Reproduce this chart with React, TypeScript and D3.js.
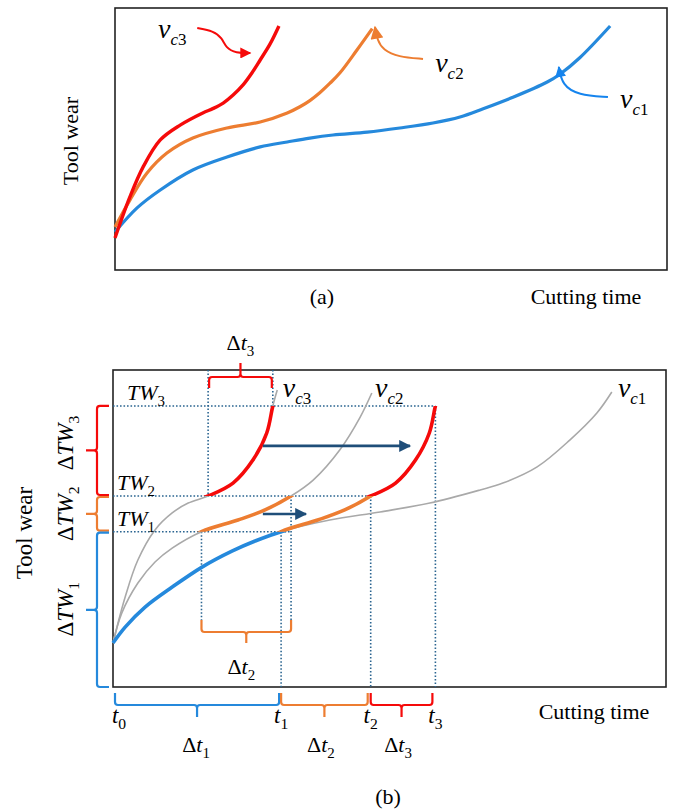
import React from 'react';
import * as d3 from 'd3';

// ---- panel (a): tool wear vs cutting time, [time, wear] ----
const vc1A: [number, number][] = [[0, 0], [4.0, 11.7], [8.2, 20.4], [14.1, 30.1], [20.3, 36.4], [26.3, 41.3], [31.2, 43.7], [35.3, 45.6], [39.5, 47.1], [45.7, 48.5], [51.6, 50.5], [57.6, 52.9], [62.5, 55.8], [66.7, 59.8], [72.1, 65.4], [78.3, 72.8], [80.6, 76.6], [84.2, 84.6], [89.7, 100]];
const vc2A: [number, number][] = [[0, 2.4], [2.7, 15.5], [5.8, 28.6], [9.4, 38.3], [14.1, 45.6], [20.3, 50.5], [26.3, 53.4], [31.2, 57.8], [33.5, 60.8], [35.3, 63.8], [37.1, 67.6], [38.9, 72.1], [40.8, 77.4], [43.8, 88.2], [46.6, 98.7]];
const vc3A: [number, number][] = [[0, -2.9], [2.7, 17], [5.1, 31.6], [8.2, 44.7], [11.8, 51.9], [15.9, 57.8], [17.8, 60.0], [19.6, 62.6], [21.4, 66.5], [23.2, 71.4], [24.8, 77.2], [26.3, 83.5], [28.1, 91.3], [29.7, 100]];

// callout arrows for the speed labels in (a)
const callout3: [number, number][] = [[14.9, 99.0], [17.8, 97.6], [19.4, 94.2], [20.1, 89.3], [21.9, 86.9], [24.5, 86.9]];
const callout2: [number, number][] = [[55.8, 84.0], [51.3, 85.0], [48.6, 88.3], [47.5, 93.2], [47.1, 99.5]];
const callout1: [number, number][] = [[89.3, 65.5], [83.9, 66.5], [81.0, 71.4], [80.4, 80.1]];
const labelsA = [{ sub: '1', t: 91.5, w: 60.2 }, { sub: '2', t: 58.0, w: 77.7 }, { sub: '3', t: 7.8, w: 94.2 }];

// ---- panel (b) ----
const vc1B: [number, number][] = [[0, 0], [2.2, 6.3], [5.8, 14.2], [10.7, 22.1], [16.1, 30.0], [21.5, 36.3], [25.7, 40.3], [30.4, 44.0], [39.2, 48.6], [48.3, 51.8], [57.3, 55.3], [66.4, 60.5], [70.5, 63.2], [76.7, 69.6], [82.6, 80.2], [87.5, 90.9], [90.2, 99.2]];
const vc2B: [number, number][] = [[0, 0], [1.6, 11.9], [4.5, 23.7], [7.6, 32.0], [10.7, 37.5], [16.0, 44.0], [22.6, 48.6], [27.5, 52.6], [32.2, 58.1], [36.2, 64.4], [41.0, 76.3], [44.7, 89.3], [46.8, 98.8]];
const vc3B: [number, number][] = [[0, 0], [2.2, 18.2], [4.5, 32.8], [7.6, 44.7], [10.7, 51.4], [13.6, 55.3], [17.2, 58.1], [21.7, 63.2], [25.3, 72.3], [27.8, 83.0], [28.9, 93.7], [29.7, 100]];

const TW = [44, 58.1, 93.7];            // TW1, TW2, TW3
const tMarks = [0, 30.4, 46.6, 58.3];   // t0..t3
const vc2Span = [16.0, 32.2];           // vc2 time from TW1 to TW2
const vc3Span = [17.2, 28.9];           // vc3 time from TW2 to TW3
const labelsB = [{ sub: '3', t: 30.7, w: 97.4 }, { sub: '2', t: 47.4, w: 97.4 }, { sub: '1', t: 91.3, w: 97.4 }];
const shiftArrows = [{ from: 27.1, to: 53.7, w: 77.9 }, { from: 27.1, to: 34.9, w: 51.0 }];

const FONT = "'Liberation Serif', 'Times New Roman', serif";
const BLUE = '#2589dc';
const ORANGE = '#ed7d31';
const RED = '#f50a0a';
const GRAY = '#a9a9a9';
const DOT = '#2b6591';
const NAVY = '#1f4e79';

const frameA = { left: 115, top: 8, right: 667, bottom: 270 };
const frameB = { left: 113, top: 370, right: 666, bottom: 687 };

function MathText(props: any) {
  const { x, y, pre = '', base, subIt = '', sub = '', size = 21, subSize, anchor = 'start', rotate = 0, fill = '#000' } = props;
  const s = subSize || size * 0.68;
  return (
    <text x={x} y={y} fontFamily={FONT} fontSize={size} textAnchor={anchor} fill={fill}
      transform={rotate ? `rotate(${rotate} ${x} ${y})` : undefined}>
      {pre && <tspan>{pre}</tspan>}
      <tspan fontStyle="italic">{base}</tspan>
      {subIt && <tspan fontStyle="italic" fontSize={s} dy={size * 0.25}>{subIt}</tspan>}
      {sub && <tspan fontSize={s} dy={subIt ? 0 : size * 0.28}>{sub}</tspan>}
    </text>
  );
}

// horizontal brace; dir=1 -> tick points down, ends turn up
function hBrace(x1: number, x2: number, y: number, dir: number, arm = 12, tick = 12) {
  const r = 3;
  const m = (x1 + x2) / 2;
  const e = y - dir * arm;
  return `M${x1},${e} V${y - dir * r} Q${x1},${y} ${x1 + r},${y} H${m - r} Q${m},${y} ${m},${y + dir * r} V${y + dir * tick} ` +
    `M${m},${y + dir * r} Q${m},${y} ${m + r},${y} H${x2 - r} Q${x2},${y} ${x2},${y - dir * r} V${e}`;
}

// vertical brace: ends turn right, tick points left
function vBrace(y1: number, y2: number, x: number, arm = 12, tick = 11) {
  const r = 3;
  const m = (y1 + y2) / 2;
  return `M${x + arm},${y1} H${x + r} Q${x},${y1} ${x},${y1 + r} V${m - r} Q${x},${m} ${x - r},${m} H${x - tick} ` +
    `M${x - r},${m} Q${x},${m} ${x},${m + r} V${y2 - r} Q${x},${y2} ${x + r},${y2} H${x + arm}`;
}

const App = () => {
  const W = 676, H = 810;
  const xA = d3.scaleLinear().domain([0, 100]).range([frameA.left, frameA.right]);
  const yA = d3.scaleLinear().domain([0, 100]).range([232, 26]);
  const xB = d3.scaleLinear().domain([0, 100]).range([frameB.left, frameB.right]);
  const yB = d3.scaleLinear().domain([0, 100]).range([643, 390]);

  const smooth = d3.curveCatmullRom.alpha(0.5);
  const lineA = d3.line<[number, number]>().x(d => xA(d[0])).y(d => yA(d[1])).curve(smooth);
  const lineB = d3.line<[number, number]>().x(d => xB(d[0])).y(d => yB(d[1])).curve(smooth);
  const arrowA = d3.line<[number, number]>().x(d => xA(d[0])).y(d => yA(d[1])).curve(d3.curveBasis);

  const orangeShift = xB(tMarks[1]) - xB(vc2Span[0]);
  const redShift = xB(tMarks[2]) - xB(vc3Span[0]);

  const dots = { stroke: DOT, strokeWidth: 1.6, strokeDasharray: '1.6 1.9', fill: 'none' };
  const innerBraceY = 632;
  const bottomBraceY = 705;

  const marker = (id: string, color: string, w = 13, h = 11) => (
    <marker id={id} viewBox="0 0 10 10" refX="9" refY="5" markerWidth={w} markerHeight={h}
      markerUnits="userSpaceOnUse" orient="auto">
      <path d="M0,0 L10,5 L0,10 z" fill={color} />
    </marker>
  );

  return (
    <svg width={W} height={H} style={{ position: 'absolute', left: 0, top: 0, background: '#fff' }}>
      <defs>
        {marker('ahRed', RED)}
        {marker('ahOrange', ORANGE, 14, 13)}
        {marker('ahBlue', '#1584ee', 12, 11)}
        {marker('ahNavy', NAVY, 14, 12)}
        <clipPath id="c01"><rect x={0} y={yB(TW[0])} width={W} height={yB(0) + 10 - yB(TW[0])} /></clipPath>
        <clipPath id="c12"><rect x={0} y={yB(TW[1])} width={W} height={yB(TW[0]) - yB(TW[1])} /></clipPath>
        <clipPath id="c23"><rect x={0} y={yB(TW[2])} width={W} height={yB(TW[1]) - yB(TW[2])} /></clipPath>
      </defs>

      {/* ---------------- panel (a) ---------------- */}
      <rect x={frameA.left} y={frameA.top} width={frameA.right - frameA.left} height={frameA.bottom - frameA.top}
        fill="none" stroke="#222" strokeWidth={1.6} />
      <path d={lineA(vc1A) || ''} fill="none" stroke={BLUE} strokeWidth={3.2} />
      <path d={lineA(vc2A) || ''} fill="none" stroke={ORANGE} strokeWidth={3.2} />
      <path d={lineA(vc3A) || ''} fill="none" stroke={RED} strokeWidth={3.4} />
      <path d={arrowA(callout3) || ''} fill="none" stroke={RED} strokeWidth={2} markerEnd="url(#ahRed)" />
      <path d={arrowA(callout2) || ''} fill="none" stroke={ORANGE} strokeWidth={2} markerEnd="url(#ahOrange)" />
      <path d={arrowA(callout1) || ''} fill="none" stroke="#1584ee" strokeWidth={2} markerEnd="url(#ahBlue)" />
      {labelsA.map(l => (
        <MathText key={'a' + l.sub} x={xA(l.t)} y={yA(l.w)} base="v" subIt="c" sub={l.sub} size={28} subSize={17} />
      ))}
      <text x={78} y={141} fontFamily={FONT} fontSize={22} textAnchor="middle" transform="rotate(-90 78 141)">Tool wear</text>
      <text x={322} y={304} fontFamily={FONT} fontSize={22} textAnchor="middle">(a)</text>
      <text x={586} y={304} fontFamily={FONT} fontSize={22} textAnchor="middle">Cutting time</text>

      {/* ---------------- panel (b) ---------------- */}
      <rect x={frameB.left} y={frameB.top} width={frameB.right - frameB.left} height={frameB.bottom - frameB.top}
        fill="none" stroke="#222" strokeWidth={1.6} />

      {/* dotted guides */}
      <line x1={frameB.left} x2={xB(tMarks[3])} y1={yB(TW[2])} y2={yB(TW[2])} {...dots} />
      <line x1={frameB.left} x2={xB(tMarks[2])} y1={yB(TW[1])} y2={yB(TW[1])} {...dots} />
      <line x1={frameB.left} x2={xB(vc2Span[1])} y1={yB(TW[0])} y2={yB(TW[0])} {...dots} />
      <line x1={xB(vc3Span[0])} x2={xB(vc3Span[0])} y1={frameB.top} y2={yB(TW[1])} {...dots} />
      <line x1={xB(vc3Span[1])} x2={xB(vc3Span[1])} y1={frameB.top} y2={yB(TW[2])} {...dots} />
      <line x1={xB(vc2Span[0])} x2={xB(vc2Span[0])} y1={yB(TW[0])} y2={innerBraceY - 12} {...dots} />
      <line x1={xB(vc2Span[1])} x2={xB(vc2Span[1])} y1={yB(TW[1])} y2={innerBraceY - 12} {...dots} />
      <line x1={xB(tMarks[1])} x2={xB(tMarks[1])} y1={yB(TW[0])} y2={frameB.bottom} {...dots} />
      <line x1={xB(tMarks[2])} x2={xB(tMarks[2])} y1={yB(TW[1])} y2={frameB.bottom} {...dots} />
      <line x1={xB(tMarks[3])} x2={xB(tMarks[3])} y1={yB(TW[2])} y2={frameB.bottom} {...dots} />

      {/* reference curves */}
      <path d={lineB(vc1B) || ''} fill="none" stroke={GRAY} strokeWidth={1.6} />
      <path d={lineB(vc2B) || ''} fill="none" stroke={GRAY} strokeWidth={1.6} />
      <path d={lineB(vc3B) || ''} fill="none" stroke={GRAY} strokeWidth={1.6} />

      {/* worn segments, original and shifted */}
      <path d={lineB(vc1B) || ''} fill="none" stroke={BLUE} strokeWidth={3.6} clipPath="url(#c01)" />
      <path d={lineB(vc2B) || ''} fill="none" stroke={ORANGE} strokeWidth={3.6} clipPath="url(#c12)" />
      <path d={lineB(vc3B) || ''} fill="none" stroke={RED} strokeWidth={3.6} clipPath="url(#c23)" />
      <g transform={`translate(${orangeShift},0)`}>
        <path d={lineB(vc2B) || ''} fill="none" stroke={ORANGE} strokeWidth={3.6} clipPath="url(#c12)" />
      </g>
      <g transform={`translate(${redShift},0)`}>
        <path d={lineB(vc3B) || ''} fill="none" stroke={RED} strokeWidth={3.6} clipPath="url(#c23)" />
      </g>

      {/* shift arrows */}
      {shiftArrows.map((a, i) => (
        <line key={i} x1={xB(a.from)} x2={xB(a.to)} y1={yB(a.w)} y2={yB(a.w)}
          stroke={NAVY} strokeWidth={2.6} markerEnd="url(#ahNavy)" />
      ))}

      {/* braces */}
      <path d={hBrace(xB(vc3Span[0]) + 1, xB(vc3Span[1]) - 1, 377, -1, 11, 14)} fill="none" stroke={RED} strokeWidth={2.2} />
      <path d={hBrace(xB(vc2Span[0]), xB(vc2Span[1]), innerBraceY, 1, 12, 11)} fill="none" stroke={ORANGE} strokeWidth={2.2} />
      <path d={hBrace(xB(tMarks[0]) + 2, xB(tMarks[1]) - 2, bottomBraceY, 1)} fill="none" stroke={BLUE} strokeWidth={2.2} />
      <path d={hBrace(xB(tMarks[1]), xB(tMarks[2]) - 3, bottomBraceY, 1)} fill="none" stroke={ORANGE} strokeWidth={2.2} />
      <path d={hBrace(xB(tMarks[2]), xB(tMarks[3]) - 3, bottomBraceY, 1)} fill="none" stroke={RED} strokeWidth={2.2} />
      <path d={vBrace(yB(TW[2]), yB(TW[1]) - 1, 97)} fill="none" stroke={RED} strokeWidth={2.2} />
      <path d={vBrace(yB(TW[1]) + 1, yB(TW[0]) - 1, 97)} fill="none" stroke={ORANGE} strokeWidth={2.2} />
      <path d={vBrace(yB(TW[0]) + 1, frameB.bottom, 97)} fill="none" stroke={BLUE} strokeWidth={2.2} />

      {/* labels */}
      {labelsB.map(l => (
        <MathText key={'b' + l.sub} x={xB(l.t)} y={yB(l.w)} base="v" subIt="c" sub={l.sub} size={28} subSize={17} />
      ))}
      <MathText x={xB(0) + 14} y={yB(TW[2]) - 6} base="TW" sub="3" size={22} />
      <MathText x={xB(0) + 4} y={yB(TW[1]) - 6} base="TW" sub="2" size={22} />
      <MathText x={xB(0) + 4} y={yB(TW[0]) - 6} base="TW" sub="1" size={22} />
      <MathText x={73} y={(yB(TW[2]) + yB(TW[1])) / 2 - 8} pre="Δ" base="TW" sub="3" anchor="middle" rotate={-90} size={23} />
      <MathText x={73} y={(yB(TW[1]) + yB(TW[0])) / 2} pre="Δ" base="TW" sub="2" anchor="middle" rotate={-90} size={23} />
      <MathText x={73} y={(yB(TW[0]) + frameB.bottom) / 2} pre="Δ" base="TW" sub="1" anchor="middle" rotate={-90} size={23} />
      <text x={32} y={533} fontFamily={FONT} fontSize={23} textAnchor="middle" transform="rotate(-90 32 533)">Tool wear</text>

      <MathText x={(xB(vc3Span[0]) + xB(vc3Span[1])) / 2} y={350} pre="Δ" base="t" sub="3" anchor="middle" size={22} />
      <MathText x={(xB(vc2Span[0]) + xB(vc2Span[1])) / 2 - 5} y={674} pre="Δ" base="t" sub="2" anchor="middle" size={22} />

      {tMarks.map((t, i) => (
        <MathText key={'t' + i} x={xB(t) + (i === 0 ? 6 : 0)} y={723} base="t" sub={String(i)} anchor="middle" size={23} />
      ))}
      {[1, 2, 3].map(i => (
        <MathText key={'dt' + i} x={(xB(tMarks[i - 1]) + xB(tMarks[i])) / 2 - (i === 1 ? 1 : 5)} y={752}
          pre="Δ" base="t" sub={String(i)} anchor="middle" size={22} />
      ))}
      <text x={594} y={719} fontFamily={FONT} fontSize={22} textAnchor="middle">Cutting time</text>
      <text x={388} y={804} fontFamily={FONT} fontSize={22} textAnchor="middle">(b)</text>
    </svg>
  );
};

export default App;
